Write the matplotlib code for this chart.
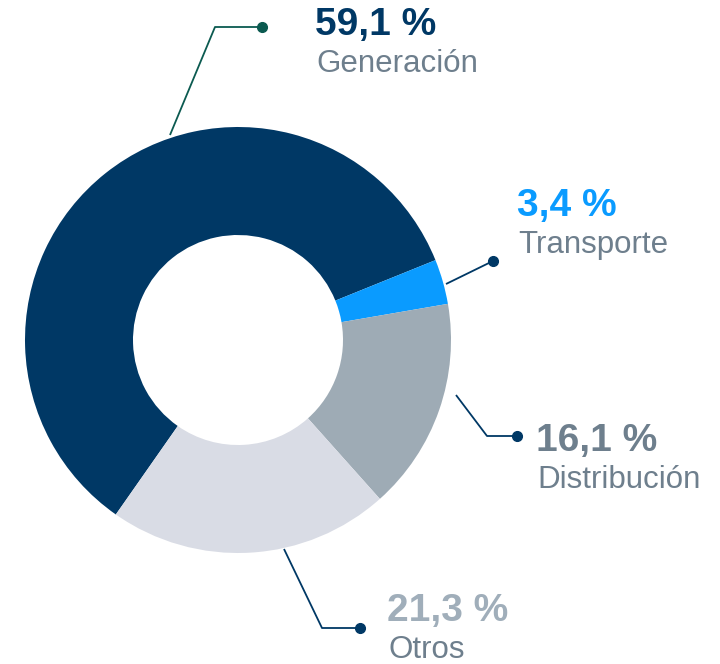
import matplotlib.pyplot as plt

# Share of each business segment (%)
segments = ["Generación", "Transporte", "Distribución", "Otros"]
shares = [59.1, 3.4, 16.1, 21.3]
value_labels = ["59,1 %", "3,4 %", "16,1 %", "21,3 %"]

wedge_colors = ["#003865", "#0A9BFF", "#9EABB5", "#D9DCE5"]
value_colors = ["#003865", "#0A9BFF", "#6E7F8D", "#A0AEBA"]
name_color = "#6E7F8D"
line_colors = ["#0B5A50", "#003865", "#003865", "#003865"]

W, H = 720, 664
fig = plt.figure(figsize=(W / 100, H / 100), dpi=100)
ax = fig.add_axes([0, 0, 1, 1])

center = (238, H - 340)
ax.pie(shares, colors=wedge_colors, startangle=235, counterclock=False,
       radius=213, center=center, frame=True,
       wedgeprops=dict(width=108, linewidth=0))
ax.set_xlim(0, W)
ax.set_ylim(0, H)
ax.axis("off")

# leader lines (pixel positions, top-left origin) and label anchors
leaders = [
    [(170, 135), (215, 27), (262, 27)],
    [(446, 284), (493, 261)],
    [(456, 395), (487, 436), (517, 436)],
    [(284, 549), (322, 628), (360, 628)],
]
label_pos = [(315, 35), (517, 216), (536, 451), (387, 621)]

for pts, lc in zip(leaders, line_colors):
    xs = [p[0] for p in pts]
    ys = [H - p[1] for p in pts]
    ax.plot(xs, ys, color=lc, lw=1.3, solid_capstyle="butt")
    ax.plot(xs[-1], ys[-1], "o", color=lc, ms=7)

for (x, y), val, vc, name in zip(label_pos, value_labels, value_colors, segments):
    ax.text(x, H - y, val, color=vc, fontsize=28, fontweight="bold",
            family="Liberation Sans", va="baseline", ha="left")
    ax.text(x + 1, H - y - 37, name, color=name_color, fontsize=22.5,
            family="Liberation Sans", va="baseline", ha="left")

fig.savefig("out.png", dpi=100)
